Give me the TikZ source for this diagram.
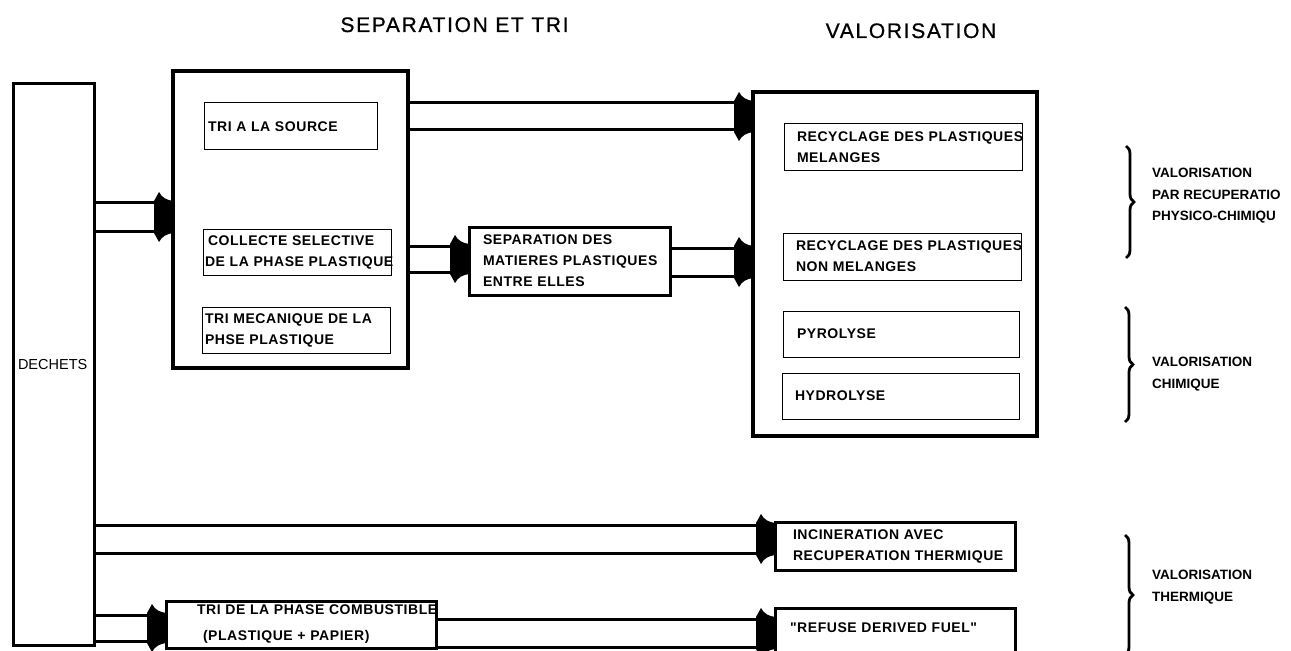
\documentclass[tikz,border=0pt]{standalone}
\usepackage{fontspec}
\setmainfont{Liberation Sans}
\newfontfamily\hdrfont[LetterSpace=8, FakeBold=0.8]{Liberation Sans}
\newfontfamily\bxfont[LetterSpace=4]{Liberation Sans}
\usetikzlibrary{decorations.pathreplacing}
\tikzset{
  bigbox/.style={draw, line width=3.2bp, inner ysep=0pt, outer sep=0pt, anchor=north west, align=left},
  smallbox/.style={draw, line width=1bp, inner ysep=0pt, outer sep=0pt, anchor=north west, align=left},
  boxtxt/.style={font=\bxfont\bfseries\fontsize{14bp}{21bp}\selectfont},
  band/.style={line width=3bp},
  hdr/.style={font=\hdrfont\fontsize{21bp}{25bp}\selectfont, anchor=base, inner sep=0pt},
  grp/.style={font=\bfseries\fontsize{13.5bp}{21.5bp}\selectfont, align=left, anchor=north west, inner sep=0pt},
  grpbrace/.style={decorate, decoration={brace, amplitude=8bp}, line width=2.8bp},
}
\newcommand\bandarrow[4]{%
  \draw[band] (#1.east |- 0,#3) -- (#2.west |- 0,#3);
  \draw[band] (#1.east |- 0,#4) -- (#2.west |- 0,#4);
  \coordinate (hd) at (#2.west |- 0,#3);
  \pgfmathsetmacro\hh{#4-#3}
  \fill[shift={(hd)}] (-19,-2) -- (-14,-11) .. controls (-11,-5) and (-6,-3) .. (0,-2)
     -- (0,\hh+2) .. controls (-6,\hh+3) and (-11,\hh+5) .. (-14,\hh+11) -- (-19,\hh+2) -- cycle;
}
\begin{document}
\begin{tikzpicture}[x=1bp, y=-1bp]
\useasboundingbox (0,0) rectangle (1291,651);
\clip (0,0) rectangle (1291,651);

% headers
\node[hdr] (hsep) at (454.5,32) {SEPARATION ET TRI};
\node[hdr] (hval) at (911,38) {VALORISATION};

% DECHETS
\node[bigbox, line width=3bp, font=\fontsize{14.5bp}{18bp}\selectfont, inner xsep=5bp, text width=71bp, minimum height=561bp] (dech) at (13,84) {DECHETS};

% separation et tri
\node[bigbox, inner sep=0pt, minimum width=235bp, minimum height=297bp] (tri) at (173,71) {};
\node[smallbox, boxtxt, inner xsep=4bp, text width=165bp, minimum height=47bp] (src) at (204,103) {\mbox{TRI A LA SOURCE}};
\node[smallbox, boxtxt, inner xsep=2bp, text width=184bp, minimum height=46bp] (col) at (203,229) {\mbox{\hspace{3bp}COLLECTE SELECTIVE}\\\mbox{DE LA PHASE PLASTIQUE}};
\node[smallbox, boxtxt, inner xsep=3bp, text width=182bp, minimum height=46bp] (mec) at (202,307) {\mbox{TRI MECANIQUE DE LA}\\\mbox{PHSE PLASTIQUE}};

\node[bigbox, boxtxt, line width=3bp, inner xsep=14bp, text width=173bp, minimum height=68bp] (sepm) at (469,227) {\mbox{SEPARATION DES}\\\mbox{MATIERES PLASTIQUES}\\\mbox{ENTRE ELLES}};

% valorisation
\node[bigbox, inner sep=0pt, minimum width=284bp, minimum height=344bp] (val) at (753,92) {};
\node[smallbox, boxtxt, inner xsep=13bp, text width=212bp, minimum height=46bp] (rec1) at (784,124) {\mbox{RECYCLAGE DES PLASTIQUES}\\\mbox{MELANGES}};
\node[smallbox, boxtxt, inner xsep=13bp, text width=212bp, minimum height=47bp] (rec2) at (783,233) {\mbox{RECYCLAGE DES PLASTIQUES}\\\mbox{NON MELANGES}};
\node[smallbox, boxtxt, inner xsep=14bp, text width=208bp, minimum height=46bp] (pyro) at (783,311) {\mbox{PYROLYSE}};
\node[smallbox, boxtxt, inner xsep=13bp, text width=211bp, minimum height=46bp] (hydro) at (782,373) {\mbox{HYDROLYSE}};

% thermal
\node[bigbox, boxtxt, line width=3bp, inner xsep=18bp, text width=204bp, minimum height=48bp] (incin) at (775,522) {\mbox{INCINERATION AVEC}\\\mbox{RECUPERATION THERMIQUE}};
\node[bigbox, line width=3bp, inner xsep=31bp, text width=208bp, minimum height=47bp,
      font=\bxfont\bfseries\fontsize{14bp}{26bp}\selectfont] (comb) at (166,601) {\mbox{TRI DE LA PHASE COMBUSTIBLE}\\\mbox{\hspace{6bp}(PLASTIQUE + PAPIER)}};
\node[bigbox, boxtxt, line width=3bp, inner xsep=15bp, text width=210bp, text height=24bp, text depth=68bp] (rdf) at (775,608) {\mbox{"REFUSE DERIVED FUEL"}};

% band arrows
\bandarrow{dech}{tri}{203}{231}
\bandarrow{tri}{val}{103}{130}
\bandarrow{tri}{sepm}{246}{272}
\bandarrow{sepm}{val}{248}{276}
\bandarrow{dech}{incin}{525}{553}
\bandarrow{dech}{comb}{615}{641}
\bandarrow{comb}{rdf}{619}{647}

% braces and group labels
\draw[grpbrace] (1126,146) -- (1126,258);
\draw[grpbrace] (1125,307) -- (1125,422);
\draw[grpbrace] (1125,535) -- (1125,655);
\node[grp] (g1) at (1152,168) {VALORISATION\\PAR RECUPERATIO\\PHYSICO-CHIMIQU};
\node[grp] (g2) at (1152,357) {VALORISATION\\CHIMIQUE};
\node[grp] (g3) at (1152,570) {VALORISATION\\THERMIQUE};
\end{tikzpicture}
\end{document}
